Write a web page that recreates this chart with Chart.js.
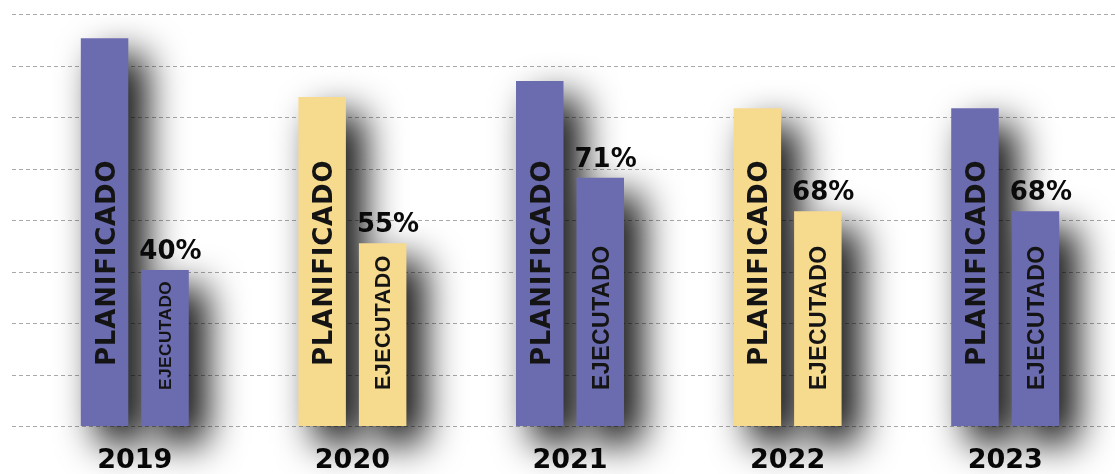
<!DOCTYPE html>
<html>
<head>
<meta charset="utf-8">
<script src="https://cdn.jsdelivr.net/npm/chart.js@4.4.0/dist/chart.umd.min.js"></script>
<style>
  html, body { margin: 0; padding: 0; background: #fff; }
  #wrap { width: 1115px; height: 474px; position: relative; }
</style>
</head>
<body>
<div id="wrap"><canvas id="chart"></canvas></div>
<script>
// values (arbitrary units, top grid line = 8)
const years = ['2019', '2020', '2021', '2022', '2023'];
const planificado = [7.53, 6.39, 6.70, 6.17, 6.17];
const ejecutado = [3.03, 3.55, 4.82, 4.17, 4.17];
const porcentajes = ['40%', '55%', '71%', '68%', '68%'];
const yearColors = ['#6b6bb0', '#f6da8e', '#6b6bb0', '#f6da8e', '#6b6bb0'];

// draws rotated text inside a bar, starting near the bottom
function drawVertical(ctx, text, x, yStart, font, spacing) {
    ctx.save();
    ctx.font = font;
    ctx.letterSpacing = spacing;
    ctx.translate(x, yStart);
    ctx.rotate(-Math.PI / 2);
    ctx.textAlign = 'left';
    ctx.textBaseline = 'alphabetic';
    const capH = ctx.measureText('H').actualBoundingBoxAscent;
    ctx.fillText(text, 0, capH / 2);
    ctx.restore();
}

// grid, soft shadows and labels
const decor = {
    id: 'decor',
    beforeDatasetsDraw(chart) {
        const ctx = chart.ctx;
        const y = chart.scales.y;
        ctx.save();
        ctx.strokeStyle = '#aaaaaa';
        ctx.lineWidth = 1;
        ctx.setLineDash([4, 3]);
        y.ticks.forEach(t => {
            const py = Math.round(y.getPixelForValue(t.value)) + 0.5;
            ctx.beginPath();
            ctx.moveTo(12, py);
            ctx.lineTo(chart.width, py);
            ctx.stroke();
        });
        ctx.restore();

        // shadows only: rects drawn far off canvas, shadow shifted back in
        const far = 5000;
        ctx.save();
        ctx.shadowColor = 'rgba(0,0,0,1)';
        ctx.shadowBlur = 38;
        ctx.shadowOffsetX = far + 17;
        ctx.shadowOffsetY = 17;
        ctx.fillStyle = '#000';
        [0, 1].forEach(d => {
            chart.getDatasetMeta(d).data.forEach(bar => {
                ctx.fillRect(bar.x - bar.width / 2 - far, bar.y, bar.width, bar.base - bar.y);
            });
        });
        ctx.restore();
    },
    afterDatasetsDraw(chart) {
        const ctx = chart.ctx;
        ctx.fillStyle = '#141414';

        chart.getDatasetMeta(0).data.forEach(bar => {
            drawVertical(ctx, 'PLANIFICADO', bar.x, bar.base - 60, 'bold 26px "DejaVu Sans"', '0.8px');
        });

        chart.getDatasetMeta(1).data.forEach((bar, i) => {
            const h = bar.base - bar.y;
            let size = 23;
            ctx.save();
            ctx.font = 'bold ' + size + 'px "Liberation Sans"';
            ctx.letterSpacing = '0.5px';
            const w = ctx.measureText('EJECUTADO').width;
            ctx.restore();
            const avail = h - 36 - 12;
            if (w > avail) size = size * avail / w;
            drawVertical(ctx, 'EJECUTADO', bar.x, bar.base - 36, 'bold ' + size.toFixed(1) + 'px "Liberation Sans"', '0.5px');

            ctx.save();
            ctx.font = 'bold 26px "DejaVu Sans"';
            ctx.textAlign = 'left';
            ctx.textBaseline = 'alphabetic';
            ctx.fillStyle = '#0a0a0a';
            ctx.fillText(porcentajes[i], bar.x - bar.width / 2 - 2, bar.y - 11);
            ctx.restore();
        });
    }
};

const ctx = document.getElementById('chart').getContext('2d');
const chart = new Chart(ctx, {
    type: 'bar',
    data: {
        labels: years,
        datasets: [{
            label: 'Planificado',
            data: planificado,
            backgroundColor: yearColors,
            clip: false
        }, {
            label: 'Ejecutado',
            data: ejecutado,
            backgroundColor: yearColors,
            clip: false
        }]
    },
    options: {
        responsive: true,
        maintainAspectRatio: false,
        animation: false,
        categoryPercentage: 0.556,
        barPercentage: 0.785,
        layout: { padding: { left: 26, right: 1, top: 14, bottom: 0 } },
        plugins: {
            legend: { display: false },
            tooltip: { enabled: false }
        },
        scales: {
            x: {
                z: 1,
                grid: { display: false, drawTicks: false },
                border: { display: false },
                afterFit(scale) { scale.height = 48; },
                ticks: {
                    color: '#0a0a0a',
                    padding: 19,
                    font: { family: 'DejaVu Sans', weight: 'bold', size: 27 }
                }
            },
            y: {
                display: false,
                min: 0,
                max: 8,
                ticks: { stepSize: 1 }
            }
        }
    },
    plugins: [decor]
});
</script>
</body>
</html>
